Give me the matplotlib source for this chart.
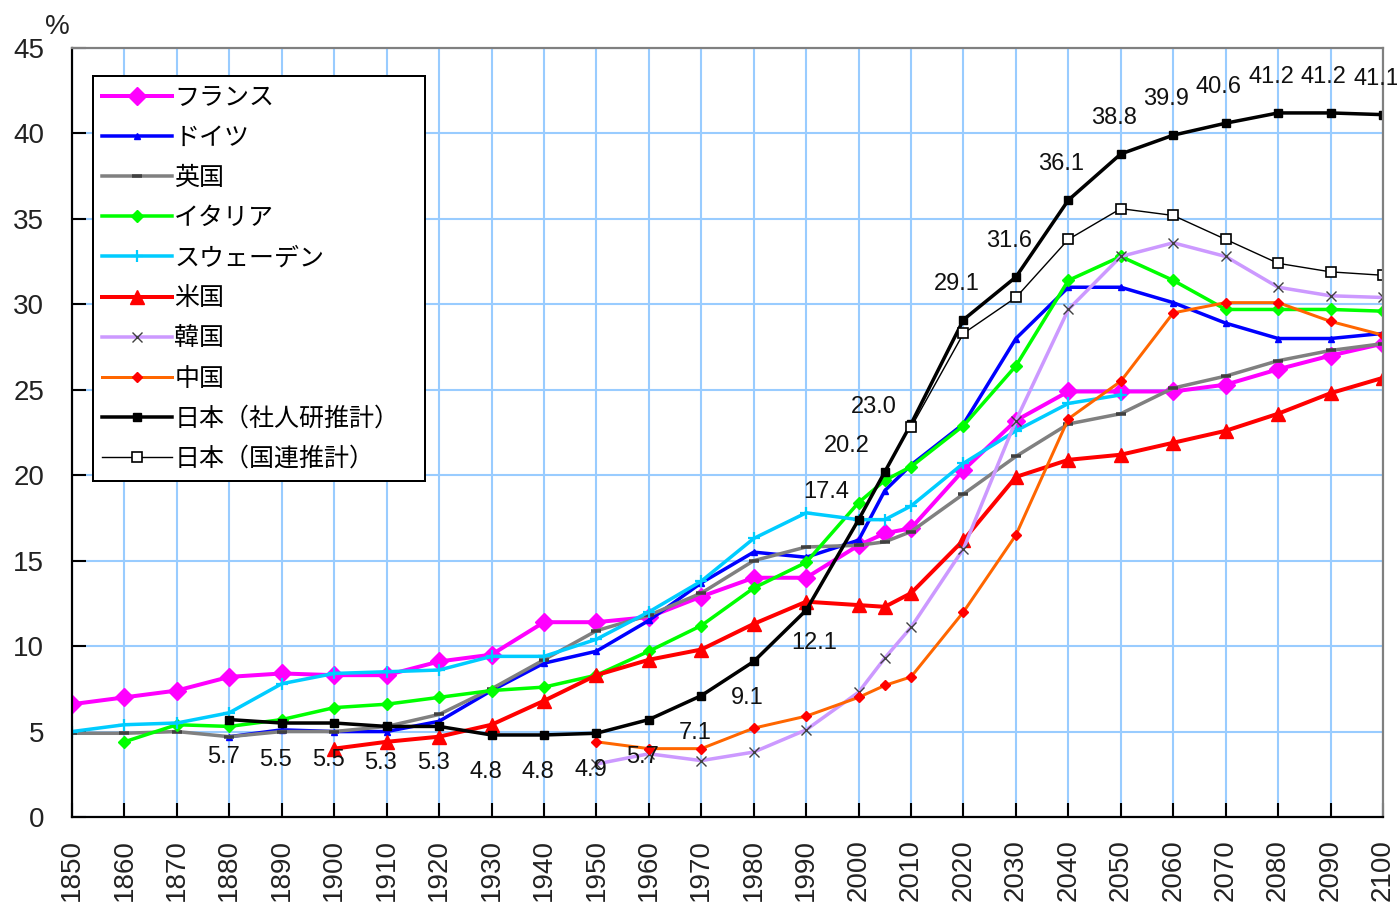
import numpy as np
import matplotlib
matplotlib.use("Agg")
import matplotlib.pyplot as plt
from matplotlib.ticker import MultipleLocator

plt.rcParams['font.family'] = ['Liberation Sans', 'Noto Sans CJK JP', 'DejaVu Sans']

nan = np.nan

YEARS = [1850, 1860, 1870, 1880, 1890, 1900, 1910, 1920, 1930, 1940, 1950,
         1960, 1970, 1980, 1990, 2000, 2005, 2010, 2020, 2030, 2040, 2050,
         2060, 2070, 2080, 2090, 2100]

france = [6.6, 7.0, 7.4, 8.2, 8.4, 8.3, 8.3, 9.1, 9.5, 11.4, 11.4,
          11.7, 12.9, 14.0, 14.0, 15.9, 16.6, 16.9, 20.3, 23.2, 24.9, 24.9,
          24.9, 25.3, 26.2, 27.0, 27.7]
germany = [nan, nan, nan, 4.7, 5.1, 5.0, 5.0, 5.6, 7.4, 9.0, 9.7,
           11.5, 13.7, 15.5, 15.2, 16.2, 19.1, 20.6, 23.0, 28.0, 31.0, 31.0,
           30.1, 28.9, 28.0, 28.0, 28.3]
uk = [4.9, 4.9, 5.0, 4.7, 5.0, 5.0, 5.3, 6.0, 7.5, 9.2, 10.9,
      11.8, 13.1, 15.0, 15.8, 15.9, 16.1, 16.7, 18.9, 21.1, 23.0, 23.6,
      25.1, 25.8, 26.7, 27.3, 27.7]
italy = [nan, 4.4, 5.4, 5.3, 5.7, 6.4, 6.6, 7.0, 7.4, 7.6, 8.3,
         9.7, 11.2, 13.4, 14.9, 18.4, 19.7, 20.5, 22.9, 26.4, 31.4, 32.8,
         31.4, 29.7, 29.7, 29.7, 29.6]
sweden = [5.0, 5.4, 5.5, 6.1, 7.8, 8.4, 8.5, 8.6, 9.4, 9.4, 10.4,
          12.0, 13.8, 16.3, 17.8, 17.4, 17.4, 18.2, 20.7, 22.6, 24.2, 24.7,
          nan, nan, nan, nan, nan]
usa = [nan, nan, nan, nan, nan, 4.0, 4.4, 4.7, 5.4, 6.8, 8.3,
       9.2, 9.8, 11.3, 12.6, 12.4, 12.3, 13.1, 16.2, 19.9, 20.9, 21.2,
       21.9, 22.6, 23.6, 24.8, 25.7]
korea = [nan, nan, nan, nan, nan, nan, nan, nan, nan, nan, 3.1,
         3.7, 3.3, 3.8, 5.1, 7.3, 9.3, 11.1, 15.7, 23.2, 29.7, 32.8,
         33.6, 32.8, 31.0, 30.5, 30.4]
china = [nan, nan, nan, nan, nan, nan, nan, nan, nan, nan, 4.4,
         4.0, 4.0, 5.2, 5.9, 7.0, 7.7, 8.2, 12.0, 16.5, 23.3, 25.5,
         29.5, 30.1, 30.1, 29.0, 28.2]
japan_ipss = [nan, nan, nan, 5.7, 5.5, 5.5, 5.3, 5.3, 4.8, 4.8, 4.9,
              5.7, 7.1, 9.1, 12.1, 17.4, 20.2, 23.0, 29.1, 31.6, 36.1, 38.8,
              39.9, 40.6, 41.2, 41.2, 41.1]
japan_un = [nan, nan, nan, nan, nan, nan, nan, nan, nan, nan, nan,
            nan, nan, nan, nan, nan, nan, 22.8, 28.3, 30.4, 33.8, 35.6,
            35.2, 33.8, 32.4, 31.9, 31.7]

LABELS = ['フランス', 'ドイツ', '英国', 'イタリア', 'スウェーデン', '米国',
          '韓国', '中国', '日本（社人研推計）', '日本（国連推計）']

fig = plt.figure(figsize=(13.97, 9.05), dpi=100)
ax = fig.add_axes([72 / 1397, 1 - 817 / 905, (1383 - 72) / 1397, (817 - 48) / 905])

px = 0.72  # points per pixel at 100 dpi

styles = [
    dict(color='#FF00FF', lw=4 * px, marker='D', ms=9, mfc='#FF00FF', mec='#FF00FF'),
    dict(color='#0000FF', lw=3.5 * px, marker='^', ms=5, mfc='#0000FF', mec='#0000FF'),
    dict(color='#808080', lw=3.5 * px, marker='_', ms=7, mew=3.5 * px, mec='#404040'),
    dict(color='#00FF00', lw=3.5 * px, marker='D', ms=6.5, mfc='#00FF00', mec='#00FF00'),
    dict(color='#00CCFF', lw=3.5 * px, marker='+', ms=9, mew=1.6, mec='#00CCFF'),
    dict(color='#FF0000', lw=4 * px, marker='^', ms=10, mfc='#FF0000', mec='#FF0000'),
    dict(color='#CC99FF', lw=3.5 * px, marker='x', ms=6.5, mew=1.0, mec='#404040'),
    dict(color='#FF6600', lw=3 * px, marker='D', ms=5.5, mfc='#FF0000', mec='#FF0000'),
    dict(color='#000000', lw=3.5 * px, marker='s', ms=6, mfc='#000000', mec='#000000'),
    dict(color='#000000', lw=1.4 * px, marker='s', ms=7.5, mfc='white', mec='#000000', mew=1.2),
]
series = [france, germany, uk, italy, sweden, usa, korea, china, japan_ipss, japan_un]

years = np.array(YEARS)
for vals, lab, st in zip(series, LABELS, styles):
    y = np.array(vals, dtype=float)
    m = ~np.isnan(y)
    ax.plot(years[m], y[m], label=lab, **st)

# value labels for the IPSS projection of Japan
for yr, v in zip(YEARS, japan_ipss):
    if np.isnan(v):
        continue
    if yr <= 1980:
        off = (-6, -37)
    elif yr == 1990:
        off = (8, -33)
    elif yr == 2000:
        off = (-32, 28)
    elif yr == 2005:
        off = (-38, 26)
    elif yr == 2010:
        off = (-37, 17)
    else:
        off = (-7, 36)
    ax.annotate(f'{v:.1f}', (yr, v), xytext=off, textcoords='offset pixels',
                ha='center', va='center', fontsize=17, color='#111111')

ax.set_xlim(1850, 2100)
ax.set_ylim(0, 45)
ax.xaxis.set_major_locator(MultipleLocator(10))
ax.yaxis.set_major_locator(MultipleLocator(5))
ax.set_xticks(range(1850, 2101, 10))
ax.set_xticklabels([str(v) for v in range(1850, 2101, 10)], rotation=90)
ax.grid(True, color='#99CCFF', lw=1.5)
ax.set_axisbelow(True)
ax.tick_params(axis='both', direction='in', length=10, width=1.5, colors='black',
               labelsize=20, labelcolor='#222222')
ax.tick_params(axis='y', pad=20)
ax.tick_params(axis='x', pad=16)
for s in ('left', 'bottom'):
    ax.spines[s].set_color('black')
    ax.spines[s].set_linewidth(2.2 * px)
for s in ('top', 'right'):
    ax.spines[s].set_color('#808080')
    ax.spines[s].set_linewidth(2.2 * px)

fig.text(57 / 1397, 1 - 27 / 905, '%', fontsize=20, ha='center', va='center', color='#222222')

leg = ax.legend(loc='upper left',
                bbox_to_anchor=(93 / 1397, 1 - 475 / 905, (425 - 93) / 1397, (475 - 76) / 905),
                bbox_transform=fig.transFigure, mode='expand', borderaxespad=0,
                numpoints=1, handlelength=2.8, handletextpad=0.1,
                labelspacing=0.565, borderpad=0.35, fancybox=False, framealpha=1,
                edgecolor='black', prop={'family': ['Noto Sans CJK JP'], 'size': 18})
leg.get_frame().set_linewidth(2 * px)

fig.savefig('out.png', dpi=100, facecolor='white')
